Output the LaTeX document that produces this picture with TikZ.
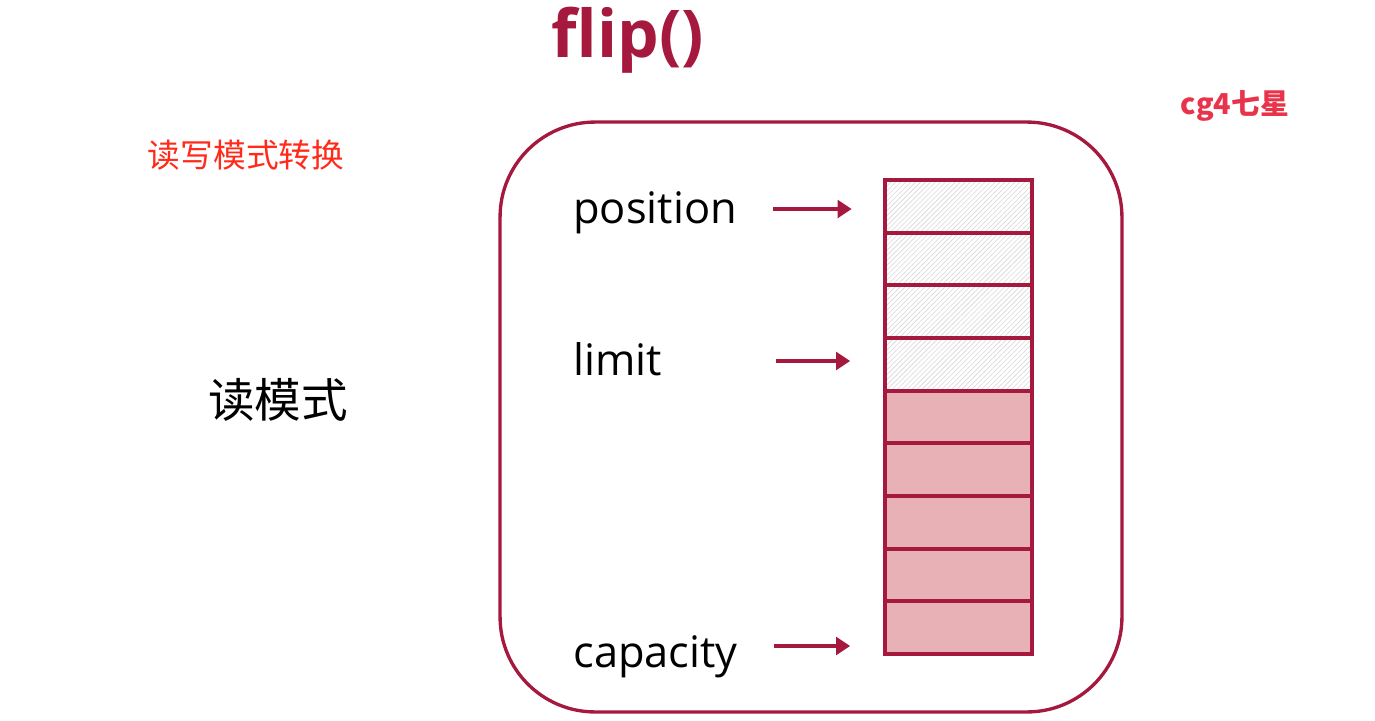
\documentclass[tikz,border=0pt]{standalone}
\usepackage{fontspec}
\setmainfont{Open Sans}
\newfontfamily\cjk{Noto Sans CJK SC}
\usetikzlibrary{arrows.meta,patterns.meta}
\definecolor{crimson}{HTML}{A6193E}
\definecolor{cellpink}{HTML}{E8B1B5}
\definecolor{notered}{HTML}{FF2A1A}
\definecolor{markred}{HTML}{E8334A}
\tikzset{
  cell/.style={draw=crimson,line width=2.1pt,minimum width=2.94cm,minimum height=1.053cm,inner sep=0pt},
  used/.style={cell,pattern={Lines[angle=45,distance=2pt,line width=0.35pt]},pattern color=black!16},
  free/.style={cell,fill=cellpink},
  lbl/.style={anchor=base west,inner sep=0pt,font=\fontsize{24.7}{28}\selectfont},
  ptr/.style={draw=crimson,line width=2.3pt,shorten >=0.66cm,-{Triangle[length=8pt,width=10pt]}}
}
\begin{document}
\begin{tikzpicture}[x=0.02cm,y=-0.02cm]
  \useasboundingbox (0,0) rectangle (1375,720);
  \node[anchor=base,inner sep=0pt,text=crimson,font=\bfseries\fontsize{37.5}{40}\selectfont] (title) at (628,57) {flip()};
  \node[inner sep=0pt,text=notered,font=\cjk\fontsize{18.6}{20}\selectfont] (mode) at (246,155) {读写模式转换};
  \node[inner sep=0pt,text=markred,font=\cjk\bfseries\fontsize{16.4}{18}\selectfont] (mark) at (1235,106) {cg4七星};
  \node[inner sep=0pt,font=\cjk\fontsize{26.5}{28}\selectfont] (read) at (278,400) {读模式};
  \node[draw=crimson,line width=1.9pt,rounded corners=1.9cm,minimum width=12.44cm,minimum height=11.8cm] (frame) at (811,417) {};
  \node[used] (c1) at (958.5,206.3) {};
  \node[used] (c2) at (958.5,259.0) {};
  \node[used] (c3) at (958.5,311.7) {};
  \node[used] (c4) at (958.5,364.3) {};
  \node[free] (c5) at (958.5,417.0) {};
  \node[free] (c6) at (958.5,469.7) {};
  \node[free] (c7) at (958.5,522.3) {};
  \node[free] (c8) at (958.5,575.0) {};
  \node[free] (c9) at (958.5,627.7) {};
  \node[lbl] (pos) at (573,223) {position};
  \node[lbl] (lim) at (573,375) {limit};
  \node[lbl] (cap) at (573,667) {capacity};
  \coordinate (posT) at (773,209);
  \coordinate (limT) at (776,361);
  \coordinate (capT) at (774,646);
  \draw[ptr] (posT) -- (posT -| c1.west);
  \draw[ptr] (limT) -- (limT -| c4.west);
  \draw[ptr] (capT) -- (capT -| c9.west);
\end{tikzpicture}
\end{document}
